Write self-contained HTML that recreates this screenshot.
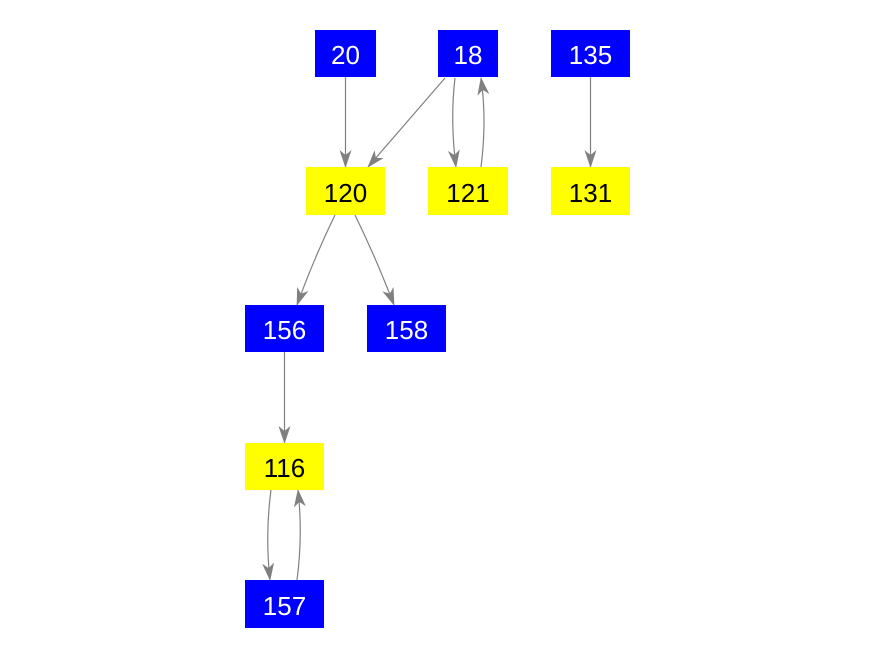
<!DOCTYPE html>
<html><head><style>body{margin:0;background:#fff}svg{display:block}text{font-family:"Liberation Sans",Arial,sans-serif;font-size:26px;text-anchor:middle}</style></head>
<body>
<svg width="875" height="656" xmlns="http://www.w3.org/2000/svg">
<defs><marker id="a" markerWidth="18" markerHeight="12" refX="17" refY="6" orient="auto" markerUnits="userSpaceOnUse"><path d="M0,0 L18,6 L0,12 L5,6 Z" fill="#808080"/></marker></defs>
<g stroke="#808080" stroke-width="1.2" fill="none" marker-end="url(#a)">
<path d="M345.5,77 L345.5,167"/>
<path d="M445,78 L368,167"/>
<path d="M455,78 Q450,120 456,167"/>
<path d="M481,167 Q487,120 481,78"/>
<path d="M590.5,77 L590.5,167"/>
<path d="M335,215 Q314,258 297,305"/>
<path d="M355,215 Q376,258 394,305"/>
<path d="M284.5,352 L284.5,443"/>
<path d="M271,490 Q265,535 270,580"/>
<path d="M297,580 Q303,535 298,490"/>
</g>
<rect x="315" y="30" width="61" height="47" fill="#0000ff"/><text x="345.5" y="64" fill="#fff">20</text>
<rect x="438" y="30" width="60" height="47" fill="#0000ff"/><text x="468" y="64" fill="#fff">18</text>
<rect x="551" y="30" width="79" height="47" fill="#0000ff"/><text x="590.5" y="64" fill="#fff">135</text>
<rect x="306" y="167" width="79" height="48" fill="#ffff00"/><text x="345.5" y="202" fill="#000">120</text>
<rect x="428" y="167" width="80" height="48" fill="#ffff00"/><text x="468" y="202" fill="#000">121</text>
<rect x="551" y="167" width="79" height="48" fill="#ffff00"/><text x="590.5" y="202" fill="#000">131</text>
<rect x="245" y="305" width="79" height="47" fill="#0000ff"/><text x="284.5" y="339" fill="#fff">156</text>
<rect x="367" y="305" width="79" height="47" fill="#0000ff"/><text x="406.5" y="339" fill="#fff">158</text>
<rect x="245" y="443" width="79" height="47" fill="#ffff00"/><text x="284.5" y="477" fill="#000">116</text>
<rect x="245" y="580" width="79" height="48" fill="#0000ff"/><text x="284.5" y="615" fill="#fff">157</text>
</svg>
</body></html>
